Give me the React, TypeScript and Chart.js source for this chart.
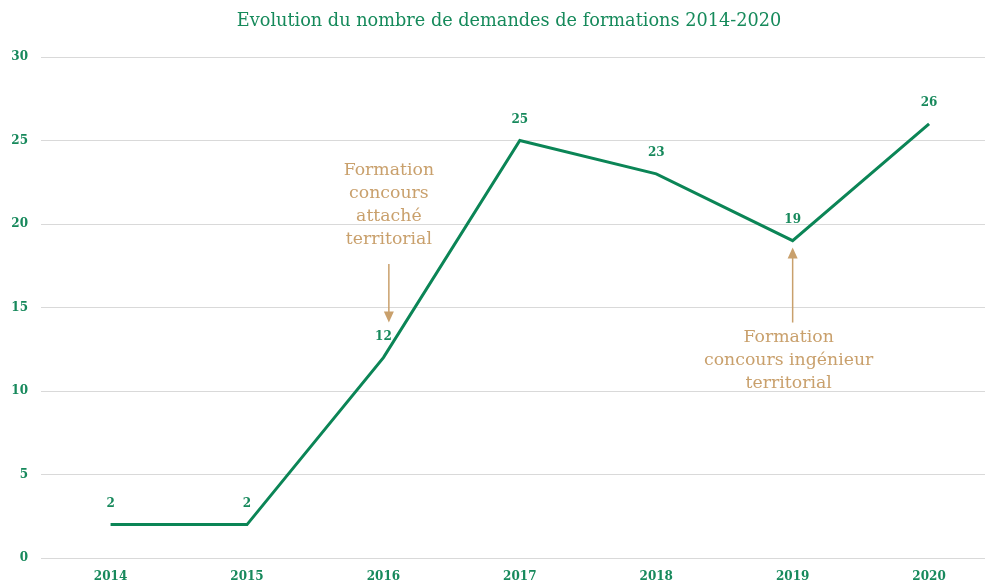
import React, { useEffect, useRef } from "react";
import { Chart, registerables } from "chart.js";

Chart.register(...registerables);

const years = [2014, 2015, 2016, 2017, 2018, 2019, 2020];
const demandes = [2, 2, 12, 25, 23, 19, 26];
const yTicks = [0, 5, 10, 15, 20, 25, 30];
const titleText = "Evolution du nombre de demandes de formations 2014-2020";

const noteLines1 = ["Formation", "concours", "attaché", "territorial"];
const noteLines2 = ["Formation", "concours ingénieur", "territorial"];
// annotation anchors in data units
const note1 = { x: 2016.04, textY: 23.2, arrowFrom: 17.6, arrowTo: 14.1, dx: 0 };
const note2 = { x: 2019.0, textY: 13.2, arrowFrom: 14.1, arrowTo: 18.6, dx: -4 };

const GREEN = "#0b8556";
const TICK_GREEN = "#17895c";
const TAN = "#c9a06c";

const overlay = {
  id: "overlay",
  afterDatasetsDraw(chart: any) {
    const { ctx, scales } = chart;
    const xs = scales.x;
    const ys = scales.y;
    ctx.save();
    // title
    ctx.fillStyle = "#168a5b";
    ctx.font = "17.7px 'DejaVu Serif'";
    ctx.textAlign = "center";
    ctx.textBaseline = "middle";
    ctx.fillText(titleText, 509, 21);
    // data labels
    ctx.fillStyle = TICK_GREEN;
    ctx.font = "bold 12px 'DejaVu Serif'";
    years.forEach((yr, i) => {
      const px = xs.getPixelForValue(yr);
      const py = ys.getPixelForValue(demandes[i]);
      ctx.fillText(String(demandes[i]), px, py - 21);
    });
    // annotations
    const drawNote = (note: any, lines: string[]) => {
      const px = xs.getPixelForValue(note.x);
      ctx.fillStyle = TAN;
      ctx.font = "17.3px 'DejaVu Serif'";
      ctx.textAlign = "center";
      ctx.textBaseline = "middle";
      const ty = ys.getPixelForValue(note.textY);
      lines.forEach((l, k) => ctx.fillText(l, px + note.dx, ty + k * 23));
      const y0 = ys.getPixelForValue(note.arrowFrom);
      const y1 = ys.getPixelForValue(note.arrowTo);
      ctx.strokeStyle = TAN;
      ctx.lineWidth = 1.5;
      const dir = y1 > y0 ? 1 : -1;
      ctx.beginPath();
      ctx.moveTo(px, y0);
      ctx.lineTo(px, y1 - dir * 9);
      ctx.stroke();
      ctx.beginPath();
      ctx.moveTo(px, y1);
      ctx.lineTo(px - 5, y1 - dir * 11);
      ctx.lineTo(px + 5, y1 - dir * 11);
      ctx.closePath();
      ctx.fill();
    };
    drawNote(note1, noteLines1);
    drawNote(note2, noteLines2);
    ctx.restore();
  },
};

export default function App() {
  const ref = useRef<HTMLCanvasElement | null>(null);
  useEffect(() => {
    document.body.style.margin = "0";
    const chart = new Chart(ref.current as HTMLCanvasElement, {
      type: "line",
      data: {
        datasets: [
          {
            data: years.map((x, i) => ({ x, y: demandes[i] })),
            borderColor: GREEN,
            borderWidth: 3,
            pointRadius: 0,
            tension: 0,
            fill: false,
          },
        ],
      },
      options: {
        animation: false,
        responsive: true,
        maintainAspectRatio: false,
        layout: { padding: { top: 57, right: 0, bottom: 0, left: 0 } },
        plugins: {
          legend: { display: false },
          tooltip: { enabled: false },
          title: { display: false },
        },
        scales: {
          x: {
            type: "linear",
            min: 2013.49,
            max: 2020.41,
            afterBuildTicks: (axis: any) => {
              axis.ticks = years.map((v) => ({ value: v }));
            },
            afterFit: (axis: any) => {
              axis.height = 30;
            },
            ticks: {
              color: TICK_GREEN,
              font: { family: "'DejaVu Serif'", size: 12, weight: "bold" },
              padding: 12,
              maxRotation: 0,
              callback: (v: any) => String(v),
            },
            grid: { display: false, drawTicks: false },
            border: { display: false },
          },
          y: {
            min: 0,
            max: 30,
            afterBuildTicks: (axis: any) => {
              axis.ticks = yTicks.map((v) => ({ value: v }));
            },
            afterFit: (axis: any) => {
              axis.width = 41;
            },
            ticks: {
              color: TICK_GREEN,
              font: { family: "'DejaVu Serif'", size: 12, weight: "bold" },
              padding: 13,
            },
            grid: { color: "#d9d9d9", drawTicks: false, lineWidth: 1 },
            border: { display: false },
          },
        },
      },
      plugins: [overlay],
    });
    return () => chart.destroy();
  }, []);
  return (
    <div style={{ width: 985, height: 588, position: "relative" }}>
      <canvas ref={ref} />
    </div>
  );
}
